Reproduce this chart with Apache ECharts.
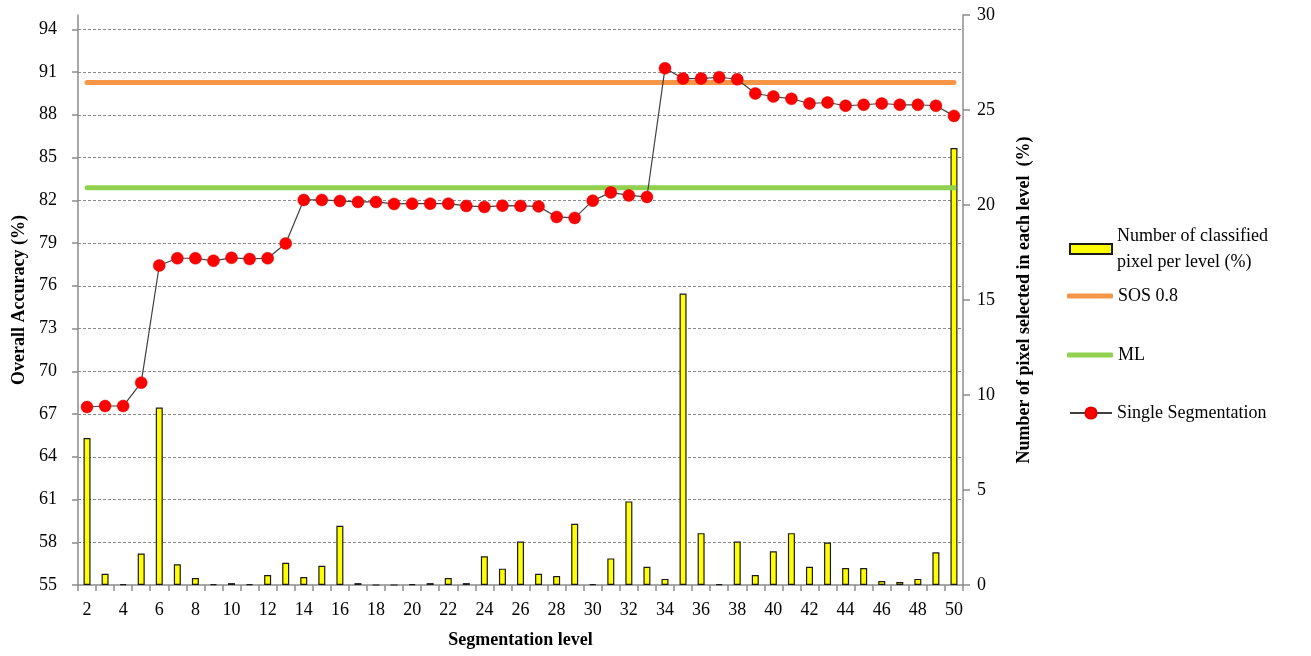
<!DOCTYPE html>
<html>
<head>
<meta charset="utf-8">
<script src="https://cdn.jsdelivr.net/npm/echarts@6/dist/echarts.min.js"></script>
<style>
html,body{margin:0;padding:0;background:#fff;}
#chart{width:1311px;height:656px;}
</style>
</head>
<body>
<div id="chart"></div>
<script>
const levels = ['2','3','4','5','6','7','8','9','10','11','12','13','14','15','16','17','18','19','20','21','22','23','24','25','26','27','28','29','30','31','32','33','34','35','36','37','38','39','40','41','42','43','44','45','46','47','48','49','50'];
const pixelPct = [7.74,0.59,0.05,1.66,9.34,1.09,0.37,0.05,0.1,0.05,0.53,1.17,0.42,1.01,3.12,0.1,0,0,0.05,0.1,0.37,0.1,1.51,0.86,2.29,0.59,0.47,3.22,0.05,1.40,4.40,0.96,0.32,15.34,2.73,0.05,2.29,0.53,1.77,2.73,0.96,2.24,0.89,0.89,0.21,0.16,0.32,1.72,23.0];
const singleSeg = [67.49,67.56,67.56,69.2,77.42,77.93,77.93,77.75,77.96,77.88,77.93,78.96,82.02,82.02,81.95,81.88,81.88,81.74,81.76,81.76,81.76,81.60,81.53,81.62,81.60,81.57,80.83,80.76,81.97,82.55,82.34,82.23,91.26,90.54,90.54,90.63,90.49,89.49,89.28,89.12,88.79,88.86,88.63,88.70,88.79,88.70,88.70,88.63,87.92];
const sosValue = 90.27;
const mlValue = 82.88;
const leftTicks = {min: 55, max: 95, interval: 3};
const rightTicks = {min: 0, max: 30, interval: 5};

const FONT = 'Liberation Serif';
const chart = echarts.init(document.getElementById('chart'));
const first = levels[0], last = levels[levels.length - 1];

const legendBase = {
  orient: 'vertical', padding: 0, itemGap: 0,
  textStyle: {fontFamily: FONT, fontSize: 18, color: '#000', lineHeight: 26},
  selectedMode: false
};

chart.setOption({
  animation: false,
  backgroundColor: '#fff',
  grid: {left: 78, right: 348, top: 15, bottom: 71, outerBoundsMode: 'none', containLabel: false},
  legend: [
    Object.assign({}, legendBase, {left: 1069, top: 223, itemWidth: 42, itemHeight: 10,
      data: [{name: 'Number of classified\npixel per level (%)', icon: 'rect'}]}),
    Object.assign({}, legendBase, {left: 1067, top: 283, itemWidth: 46, itemHeight: 5,
      data: [{name: 'SOS 0.8', icon: 'roundRect'}]}),
    Object.assign({}, legendBase, {left: 1067, top: 342, itemWidth: 46, itemHeight: 5,
      data: [{name: 'ML', icon: 'roundRect'}]}),
    Object.assign({}, legendBase, {left: 1069, top: 400, itemWidth: 42, itemHeight: 14,
      data: ['Single Segmentation']})
  ],
  xAxis: {
    type: 'category',
    data: levels,
    boundaryGap: true,
    name: 'Segmentation level',
    nameLocation: 'middle',
    nameGap: 46,
    nameTextStyle: {fontFamily: FONT, fontSize: 18, fontWeight: 'bold', color: '#000'},
    axisLine: {show: true, lineStyle: {color: '#8c8c8c', width: 1.5}},
    axisTick: {show: true, interval: 0, alignWithLabel: false, length: 6, lineStyle: {color: '#8c8c8c', width: 1.5}},
    axisLabel: {interval: 1, fontFamily: FONT, fontSize: 18, color: '#000', margin: 16},
    splitLine: {show: false}
  },
  yAxis: [
    {
      type: 'value',
      min: leftTicks.min, max: leftTicks.max, interval: leftTicks.interval,
      name: 'Overall Accuracy (%)',
      nameLocation: 'middle', nameRotate: 90, nameGap: 50,
      nameTextStyle: {fontFamily: FONT, fontSize: 18, fontWeight: 'bold', color: '#000'},
      axisLine: {show: true, lineStyle: {color: '#8c8c8c', width: 1.5}},
      axisTick: {show: true, inside: false, length: 6, lineStyle: {color: '#8c8c8c', width: 1.5}},
      axisLabel: {fontFamily: FONT, fontSize: 18, color: '#000', margin: 21, showMaxLabel: false,
        formatter: v => (v > 94.5 ? '' : String(v))},
      splitLine: {show: true, showMinLine: false, showMaxLine: false,
        lineStyle: {color: '#8a8a8a', type: [3, 2], width: 1}}
    },
    {
      type: 'value',
      min: rightTicks.min, max: rightTicks.max, interval: rightTicks.interval,
      position: 'right',
      name: 'Number of pixel selected in each level  (%)',
      nameLocation: 'middle', nameRotate: 90, nameGap: 52,
      nameTextStyle: {fontFamily: FONT, fontSize: 18, fontWeight: 'bold', color: '#000'},
      axisLine: {show: true, lineStyle: {color: '#8c8c8c', width: 1.5}},
      axisTick: {show: true, inside: false, length: 7, lineStyle: {color: '#8c8c8c', width: 1.5}},
      axisLabel: {fontFamily: FONT, fontSize: 18, color: '#000', margin: 14},
      splitLine: {show: false}
    }
  ],
  series: [
    {
      name: 'Number of classified\npixel per level (%)',
      type: 'bar',
      yAxisIndex: 1,
      data: pixelPct,
      barWidth: 7,
      itemStyle: {color: '#FFFF00', borderColor: '#1a1a1a', borderWidth: 1.2},
      z: 2
    },
    {
      name: 'SOS 0.8',
      type: 'line',
      yAxisIndex: 0,
      data: [[first, sosValue], [last, sosValue]],
      symbol: 'none',
      lineStyle: {color: '#F79646', width: 5, cap: 'round'},
      itemStyle: {color: '#F79646'},
      z: 3
    },
    {
      name: 'ML',
      type: 'line',
      yAxisIndex: 0,
      data: [[first, mlValue], [last, mlValue]],
      symbol: 'none',
      lineStyle: {color: '#92D050', width: 5, cap: 'round'},
      itemStyle: {color: '#92D050'},
      z: 3
    },
    {
      name: 'Single Segmentation',
      type: 'line',
      yAxisIndex: 0,
      data: singleSeg,
      symbol: 'circle',
      symbolSize: 12,
      showAllSymbol: true,
      lineStyle: {color: '#404040', width: 1.2},
      itemStyle: {color: '#FF0000', borderColor: '#e00000', borderWidth: 0.5},
      z: 4
    }
  ]
});
</script>
</body>
</html>
